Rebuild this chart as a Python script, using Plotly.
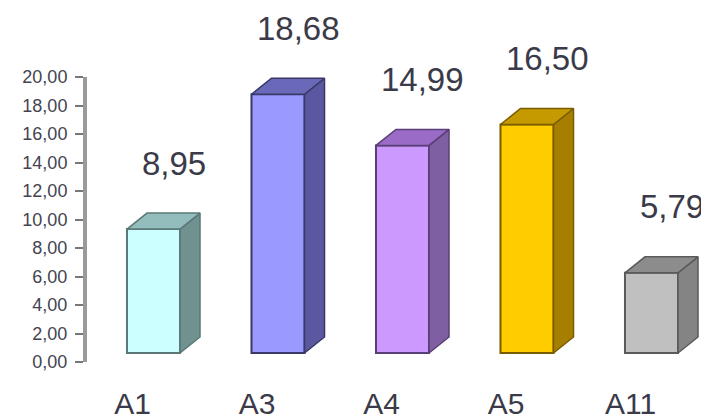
import plotly.graph_objects as go

# ---- data ----
categories = ["A1", "A3", "A4", "A5", "A11"]
values = [8.95, 18.68, 14.99, 16.50, 5.79]
value_labels = ["8,95", "18,68", "14,99", "16,50", "5,79"]
y_tick_vals = [0, 2, 4, 6, 8, 10, 12, 14, 16, 18, 20]
y_tick_text = ["0,00", "2,00", "4,00", "6,00", "8,00", "10,00", "12,00",
               "14,00", "16,00", "18,00", "20,00"]

# ---- styles ----
front_colors = ["#CCFFFF", "#9999FF", "#CC99FF", "#FFCC00", "#C0C0C0"]
side_colors = ["#6F9190", "#5A58A0", "#7E5FA2", "#A67F00", "#848484"]
top_colors = ["#93BDBC", "#6A68B8", "#9A6CC8", "#C49A00", "#8C8C8C"]
edge_colors = ["#5A7877", "#3A3868", "#5A3E76", "#7A5C00", "#5A5A5A"]

OFF = 8                          # page body margin
W, H = 709 - OFF, 419 - OFF
PH = 379 - OFF                   # plot area height (top margin 0)
MB = H - PH
X0_PX, X_STEP_PX = 153.5 - OFF, 124.5
BASE_PX, PX_PER_UNIT = 353 - OFF, 13.85
DX_PX, DY_PX = 20, 16            # 3-D depth offset
BAR_W = 0.426

x_range = [-X0_PX / X_STEP_PX, (W - X0_PX) / X_STEP_PX]
y_range = [-(PH - BASE_PX) / PX_PER_UNIT, BASE_PX / PX_PER_UNIT]
dx = DX_PX / X_STEP_PX
dy = DY_PX / PX_PER_UNIT

xs = list(range(len(categories)))

fig = go.Figure()
fig.add_trace(go.Bar(
    x=xs, y=values, width=BAR_W,
    marker=dict(color=front_colors, line=dict(color=edge_colors, width=2)),
    hoverinfo="skip", showlegend=False,
))

for i, v in enumerate(values):
    xl, xr = i - BAR_W / 2, i + BAR_W / 2
    # side face
    fig.add_trace(go.Scatter(
        x=[xr, xr + dx, xr + dx, xr, xr],
        y=[0, dy, v + dy, v, 0],
        mode="lines", fill="toself", fillcolor=side_colors[i],
        line=dict(color=edge_colors[i], width=1.5),
        hoverinfo="skip", showlegend=False,
    ))
    # top face
    fig.add_trace(go.Scatter(
        x=[xl, xl + dx, xr + dx, xr, xl],
        y=[v, v + dy, v + dy, v, v],
        mode="lines", fill="toself", fillcolor=top_colors[i],
        line=dict(color=edge_colors[i], width=1.5),
        hoverinfo="skip", showlegend=False,
    ))
    fig.add_annotation(
        x=i, y=v, text=value_labels[i], showarrow=False,
        xanchor="center", yanchor="middle", xshift=20, yshift=66,
        font=dict(family="Liberation Sans, Arial", size=33, color="#3A3A48"),
    )

# invisible trace to carry the value axis
fig.add_trace(go.Scatter(x=[0], y=[0], yaxis="y2", mode="markers",
                         marker=dict(opacity=0), hoverinfo="skip",
                         showlegend=False))

axis_px = 85 - OFF
fig.update_layout(
    width=W, height=H,
    margin=dict(l=0, r=0, t=0, b=MB, autoexpand=False),
    plot_bgcolor="rgba(0,0,0,0)", paper_bgcolor="white",
    xaxis=dict(range=x_range, tickmode="array", tickvals=xs,
               ticktext=categories, showgrid=False, zeroline=False,
               showline=False, ticks="", ticklabelshift=-21,
               ticklabelstandoff=4, automargin=False,
               tickfont=dict(family="Liberation Sans, Arial", size=30,
                             color="#3A3A48")),
    yaxis=dict(range=y_range, showgrid=False, zeroline=False,
               showline=False, showticklabels=False, ticks="",
               automargin=False),
    yaxis2=dict(range=[0, 20], anchor="free", position=axis_px / W,
                domain=[(PH - (362 - OFF)) / PH, (PH - (77 - OFF)) / PH],
                tickmode="array", tickvals=y_tick_vals, ticktext=y_tick_text,
                showgrid=False, zeroline=False, showline=True,
                linecolor="#9A9A9A", linewidth=4, automargin=False,
                ticks="outside", ticklen=8, tickwidth=2, tickcolor="#777777",
                ticklabelstandoff=4,
                tickfont=dict(family="Liberation Sans, Arial", size=18,
                              color="#444450")),
)

fig.write_html("out.html")
